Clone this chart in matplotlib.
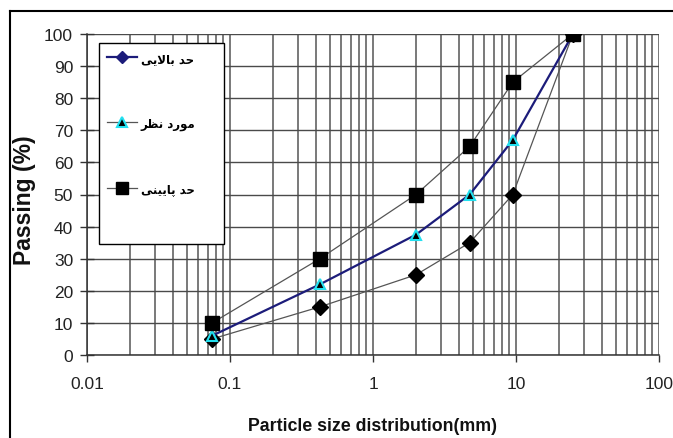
import matplotlib
matplotlib.use("Agg")
import matplotlib.pyplot as plt
from matplotlib.lines import Line2D
from matplotlib.patches import Rectangle

# ---- data ----
sizes_mm = [0.075, 0.425, 2.0, 4.75, 9.5, 25.0]
upper_limit = [5, 15, 25, 35, 50, 100]      # diamonds
target = [6, 22, 37.5, 50, 67, 100]          # triangles
lower_limit = [10, 30, 50, 65, 85, 100]      # squares
y_ticks = list(range(0, 101, 10))
x_ticks = [0.01, 0.1, 1, 10, 100]
x_tick_labels = ["0.01", "0.1", "1", "10", "100"]

# Persian legend labels (logical: "حد بالایی", "مورد نظر", "حد پایینی"), shaped in visual order
label_upper = "\uFBFD\uFBFE\uFEFB\uFE8E\uFE91 \uFEAA\uFEA3"
label_target = "\uFEAE\uFEC8\uFEE7 \uFEA9\uFEAD\uFEEE\uFEE3"
label_lower = "\uFBFD\uFEE8\uFBFF\uFBFE\uFE8E\uFB58 \uFEAA\uFEA3"

font = "Liberation Sans"

fig = plt.figure(figsize=(6.73, 4.39), dpi=100)
ax = fig.add_axes([87/673, 1-356/439, (659-87)/673, (356-35)/439])
ax.set_xscale("log")
ax.set_xlim(0.01, 100)
ax.set_ylim(0, 100)

ax.grid(True, which="major", axis="y", color="#4a4a4a", lw=1.0)
ax.grid(True, which="major", axis="x", color="#6e6e6e", lw=1.3)
ax.grid(True, which="minor", axis="x", color="#6e6e6e", lw=1.3)
ax.set_axisbelow(True)

ax.plot(sizes_mm, upper_limit, color="#555555", lw=0.9, marker="D", ms=8,
        mfc="black", mec="black", zorder=3)
ax.plot(sizes_mm, target, color="#1c1c7a", lw=1.6, marker="^", ms=7,
        mfc="black", mec="#22e0f0", mew=1.5, zorder=4)
ax.plot(sizes_mm, lower_limit, color="#555555", lw=0.9, marker="s", ms=10,
        mfc="black", mec="black", zorder=5)

for s in ["top", "right"]:
    ax.spines[s].set_visible(False)
for s in ["left", "bottom"]:
    ax.spines[s].set_color("#333333")
    ax.spines[s].set_linewidth(1.1)

ax.set_yticks(y_ticks)
ax.set_xticks(x_ticks)
ax.set_xticklabels(x_tick_labels)
ax.xaxis.set_minor_formatter(matplotlib.ticker.NullFormatter())
ax.tick_params(axis="x", which="minor", length=0)
ax.tick_params(axis="y", which="major", direction="inout", length=10, width=1, color="#333333", pad=5)
ax.tick_params(axis="x", which="major", direction="out", length=5, width=1, color="#333333", pad=10)
ax.tick_params(axis="both", labelsize=12.5)
for lab in ax.get_xticklabels() + ax.get_yticklabels():
    lab.set_fontfamily(font)
    lab.set_color("#222222")

fig.text(373/673, 1-427/439, "Particle size distribution(mm)", ha="center", va="center",
         fontsize=12.8, fontweight="bold", family=font, color="#111111")
fig.text(24/673, 1-200/439, "Passing (%)", ha="center", va="center", rotation=90,
         fontsize=16.5, fontweight="bold", family=font, color="#111111")

# legend box
ax.add_patch(Rectangle(((99-87)/572, (356-245)/321), (224-99)/572, (245-44)/321,
                       transform=ax.transAxes, facecolor="white", edgecolor="black",
                       lw=1.0, zorder=6))
handles = [
    Line2D([], [], color="#1c1c7a", lw=1.6, marker="D", ms=6, mfc="#1c1c7a", mec="#1c1c7a"),
    Line2D([], [], color="#555555", lw=0.9, marker="^", ms=7, mfc="black", mec="#22e0f0", mew=1.5),
    Line2D([], [], color="#555555", lw=0.9, marker="s", ms=9, mfc="black", mec="black"),
]
leg = ax.legend(handles, [label_upper, label_target, label_lower], loc="upper left",
                bbox_to_anchor=((96-87)/572, (356-42)/321), frameon=False,
                labelspacing=4.4, handlelength=2.6, handletextpad=0.3,
                prop={"family": "DejaVu Sans", "size": 8.5, "weight": "bold"})
leg.set_zorder(7)

# outer frame (top and left edges visible)
fig.add_artist(Line2D([10/673, 1.0], [1-12/439, 1-12/439], color="black", lw=1.5,
                      transform=fig.transFigure))
fig.add_artist(Line2D([10/673, 10/673], [0.0, 1-12/439], color="black", lw=1.5,
                      transform=fig.transFigure))

fig.savefig("out.png", dpi=100)
